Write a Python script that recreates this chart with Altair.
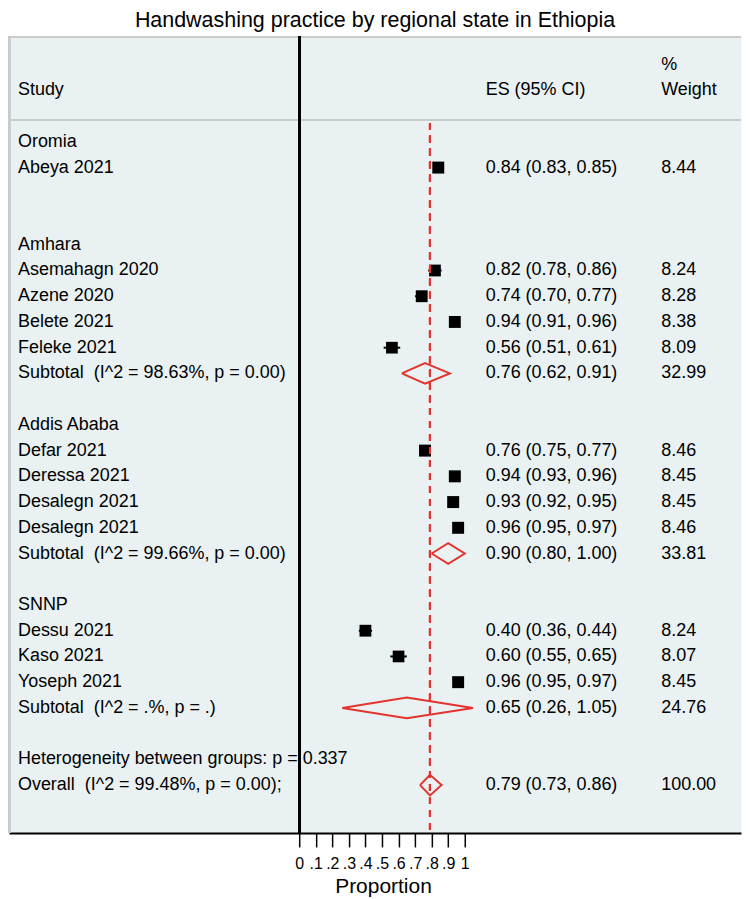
import altair as alt
import pandas as pd

# ---------------- data ----------------
groups = ["Oromia", "Amhara", "Addis Ababa", "SNNP"]

study_names = ["Abeya 2021",
               "Asemahagn 2020", "Azene 2020", "Belete 2021", "Feleke 2021",
               "Defar 2021", "Deressa 2021", "Desalegn 2021", "Desalegn 2021",
               "Dessu 2021", "Kaso 2021", "Yoseph 2021"]
study_group = ["Oromia",
               "Amhara", "Amhara", "Amhara", "Amhara",
               "Addis Ababa", "Addis Ababa", "Addis Ababa", "Addis Ababa",
               "SNNP", "SNNP", "SNNP"]
study_es = [0.84, 0.82, 0.74, 0.94, 0.56, 0.76, 0.94, 0.93, 0.96, 0.40, 0.60, 0.96]
study_lo = [0.83, 0.78, 0.70, 0.91, 0.51, 0.75, 0.93, 0.92, 0.95, 0.36, 0.55, 0.95]
study_hi = [0.85, 0.86, 0.77, 0.96, 0.61, 0.77, 0.96, 0.95, 0.97, 0.44, 0.65, 0.97]
study_w = [8.44, 8.24, 8.28, 8.38, 8.09, 8.46, 8.45, 8.45, 8.46, 8.24, 8.07, 8.45]

sub_groups = ["Amhara", "Addis Ababa", "SNNP"]
sub_labels = ["Subtotal\u00a0 (I^2 = 98.63%, p = 0.00)",
              "Subtotal\u00a0 (I^2 = 99.66%, p = 0.00)",
              "Subtotal\u00a0 (I^2 = .%, p = .)"]
sub_es = [0.76, 0.90, 0.65]
sub_lo = [0.62, 0.80, 0.26]
sub_hi = [0.91, 1.00, 1.05]
sub_w = [32.99, 33.81, 24.76]

het_label = "Heterogeneity between groups: p = 0.337"
overall_label = "Overall\u00a0 (I^2 = 99.48%, p = 0.00);"
overall_es = 0.79
overall_lo = 0.73
overall_hi = 0.86
overall_w = 100.00

x_ticks = [0, 0.1, 0.2, 0.3, 0.4, 0.5, 0.6, 0.7, 0.8, 0.9, 1]

# ---------------- build tables ----------------
def ci_text(e, l, h):
    return f"{e:.2f} ({l:.2f}, {h:.2f})"

text_rows = [
    {"row": -2, "label": "Study", "es": "ES (95% CI)", "w": "Weight"},
    {"row": -3, "label": "", "es": "", "w": "%"},
]
pts = []
dia = []

def add_diamond(did, r, e, l, h):
    hh = 0.4
    for k, (xx, yy) in enumerate([(l, r), (e, r - hh), (h, r), (e, r + hh), (l, r)]):
        dia.append({"id": did, "ord": k, "x": xx, "y": yy})

row = 0
for g in groups:
    text_rows.append({"row": row, "label": g, "es": "", "w": ""})
    row += 1
    for i, sg in enumerate(study_group):
        if sg != g:
            continue
        text_rows.append({"row": row, "label": study_names[i],
                          "es": ci_text(study_es[i], study_lo[i], study_hi[i]),
                          "w": f"{study_w[i]:.2f}"})
        pts.append({"row": row, "es": study_es[i], "lo": study_lo[i],
                    "hi": study_hi[i], "w": study_w[i]})
        row += 1
    if g in sub_groups:
        j = sub_groups.index(g)
        text_rows.append({"row": row, "label": sub_labels[j],
                          "es": ci_text(sub_es[j], sub_lo[j], sub_hi[j]),
                          "w": f"{sub_w[j]:.2f}"})
        add_diamond(g, row, sub_es[j], sub_lo[j], sub_hi[j])
    row += 1  # subtotal row
    row += 1  # spacer
text_rows.append({"row": row, "label": het_label, "es": "", "w": ""})
row += 1
text_rows.append({"row": row, "label": overall_label,
                  "es": ci_text(overall_es, overall_lo, overall_hi),
                  "w": f"{overall_w:.2f}"})
add_diamond("overall", row, overall_es, overall_lo, overall_hi)

tdf = pd.DataFrame(text_rows)
pdf = pd.DataFrame(pts)
ddf = pd.DataFrame(dia)

# ---------------- layout ----------------
W, H = 734, 799
zero_px = 291.0
px_per = 166.0
x_dom = [-zero_px / px_per, (W - zero_px) / px_per]
row0_px = 106.0
row_px = 25.8
y_dom = [-row0_px / row_px, (H - row0_px) / row_px]

FONT = "Liberation Sans"
RED = "#e3342f"

xs = alt.Scale(domain=x_dom, nice=False, zero=False)
ys = alt.Scale(domain=y_dom, nice=False, zero=False, reverse=True)

xaxis = alt.Axis(
    values=x_ticks, title="Proportion", grid=False,
    labelExpr="datum.value == 0 ? '0' : datum.value == 1 ? '1' : replace(format(datum.value, '.1f'), '0.', '.')",
    domain=True, domainColor="black", domainWidth=2,
    ticks=True, tickColor="black", tickWidth=1.5, tickSize=14,
    labelFont=FONT, labelFontSize=16, labelColor="black", labelPadding=9,
    labelFlush=False, labelOverlap=False,
    titleFont=FONT, titleFontSize=21, titleFontWeight="normal", titleColor="black",
    titleX=375, titleY=59.5, titleBaseline="alphabetic", titleAlign="center")

base_text = dict(baseline="middle", fontSize=18, font=FONT, color="black", align="left")

t_study = alt.Chart(tdf).mark_text(**base_text).encode(
    x=alt.value(9), y=alt.Y("row:Q", scale=ys, axis=None), text="label:N")
t_es = alt.Chart(tdf).mark_text(**base_text).encode(
    x=alt.value(478), y=alt.Y("row:Q", scale=ys, axis=None), text="es:N")
t_w = alt.Chart(tdf).mark_text(**base_text).encode(
    x=alt.value(654), y=alt.Y("row:Q", scale=ys, axis=None), text="w:N")

ci = alt.Chart(pdf).mark_rule(color="black", strokeWidth=2).encode(
    x=alt.X("lo:Q", scale=xs, axis=xaxis),
    x2="hi:Q",
    y=alt.Y("row:Q", scale=ys, axis=None))

sq = alt.Chart(pdf).mark_square(filled=True, color="black", opacity=1).encode(
    x=alt.X("es:Q", scale=xs, axis=xaxis),
    y=alt.Y("row:Q", scale=ys, axis=None),
    size=alt.Size("w:Q", scale=alt.Scale(domain=[0, 8.46], range=[0, 144]), legend=None))

dm = alt.Chart(ddf).mark_line(color=RED, strokeWidth=2).encode(
    x=alt.X("x:Q", scale=xs, axis=xaxis),
    y=alt.Y("y:Q", scale=ys, axis=None),
    detail="id:N", order="ord:Q")

vline = alt.Chart(tdf).mark_rule(color="black", strokeWidth=2).encode(
    x=alt.datum(0, scale=xs, axis=xaxis), y=alt.value(0), y2=alt.value(H))

dash = alt.Chart(tdf).mark_rule(color=RED, strokeWidth=2, strokeDash=[7, 6]).encode(
    x=alt.datum(overall_es, scale=xs, axis=xaxis), y=alt.value(87), y2=alt.value(H))

hsep = alt.Chart(tdf).mark_rule(color="#c9cccc", strokeWidth=2).encode(
    x=alt.value(0), x2=alt.value(W), y=alt.value(84))
top_b = alt.Chart(tdf).mark_rule(color="#c9cccc", strokeWidth=1.5).encode(
    x=alt.value(0), x2=alt.value(W), y=alt.value(0.5))
left_b = alt.Chart(tdf).mark_rule(color="#c9cccc", strokeWidth=1.5).encode(
    x=alt.value(0.5), y=alt.value(0), y2=alt.value(H))

chart = alt.layer(
    top_b, left_b, hsep, t_study, t_es, t_w, ci, sq, dm, dash, vline
).properties(
    width=W, height=H, padding=0,
    title=alt.TitleParams(
        "Handwashing practice by regional state in Ethiopia",
        font=FONT, fontSize=21.5, fontWeight="normal", color="black",
        anchor="middle", offset=2, dy=-2)
).configure_view(fill="#e9f1f2", stroke="transparent")

chart.save("out.html", embed_options={"renderer": "svg", "actions": False})
